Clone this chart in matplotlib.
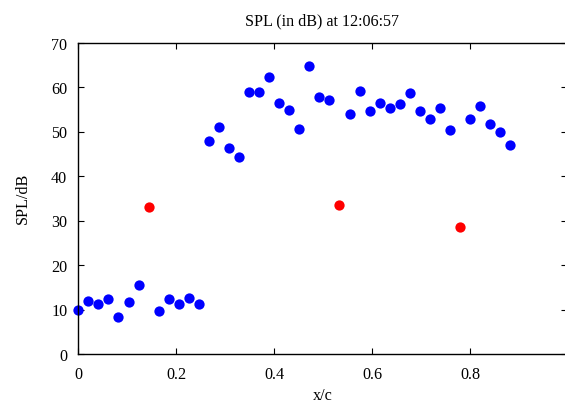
import matplotlib
matplotlib.use("Agg")
import matplotlib.pyplot as plt

x_blue = [0.0000, 0.0205, 0.0410, 0.0615, 0.0820, 0.1025, 0.1230,
          0.1640, 0.1845, 0.2050, 0.2255, 0.2460, 0.2665, 0.2870,
          0.3075, 0.3280, 0.3485, 0.3690, 0.3895, 0.4100, 0.4305,
          0.4510, 0.4715, 0.4920, 0.5125, 0.5535, 0.5740, 0.5945,
          0.6150, 0.6355, 0.6560, 0.6765, 0.6970, 0.7175, 0.7380,
          0.7585, 0.7995, 0.8200, 0.8405, 0.8610, 0.8815]
y_blue = [9.8, 11.8, 11.3, 12.4, 8.3, 11.7, 15.5,
          9.6, 12.4, 11.3, 12.6, 11.3, 47.8, 50.9,
          46.3, 44.2, 58.8, 58.8, 62.2, 56.3, 54.9,
          50.6, 64.8, 57.7, 57.0, 54.0, 59.0, 54.7,
          56.3, 55.2, 56.1, 58.6, 54.5, 52.8, 55.2,
          50.4, 52.7, 55.7, 51.7, 49.9, 47.0]

x_red = [0.1435, 0.5330, 0.7790]
y_red = [33.0, 33.5, 28.5]

title = "SPL (in dB) at 12:06:57"
xlabel = "x/c"
ylabel = "SPL/dB"
xticks = [0, 0.2, 0.4, 0.6, 0.8]
xticklabels = ["0", "0.2", "0.4", "0.6", "0.8"]
yticks = [0, 10, 20, 30, 40, 50, 60, 70]

plt.rcParams['font.family'] = ['Liberation Serif', 'DejaVu Serif']
fs = 11.6

W, H = 565, 406
fig = plt.figure(figsize=(W / 100, H / 100), dpi=100)
ax = fig.add_axes([78.3 / W, 51 / H, (566.5 - 78.3) / W, 311.5 / H])

ax.plot(x_blue, y_blue, 'o', color=(0, 0, 1), markersize=7.4, markeredgewidth=0, clip_on=False)
ax.plot(x_red, y_red, 'o', color=(1, 0, 0), markersize=7.4, markeredgewidth=0, clip_on=False)

ax.set_xlim(0, (566.5 - 78.3) / 490)
ax.set_ylim(0, 70)
ax.set_xticks(xticks)
ax.set_xticklabels(xticklabels)
ax.set_yticks(yticks)
ax.tick_params(direction='in', length=4, width=0.8, top=True, right=True,
               labelsize=fs, colors='black')
ax.tick_params(axis='x', pad=9)
ax.tick_params(axis='y', pad=8)
for s in ax.spines.values():
    s.set_linewidth(1.0)

ax.set_title(title, fontsize=fs, pad=13)
fig.text(322.5 / W, 1 - 396 / H, xlabel, fontsize=fs, ha='center', va='center')
fig.text(23 / W, 1 - 198 / H, ylabel, fontsize=fs, ha='center', va='center', rotation=90)

fig.savefig("out.png", dpi=100)
